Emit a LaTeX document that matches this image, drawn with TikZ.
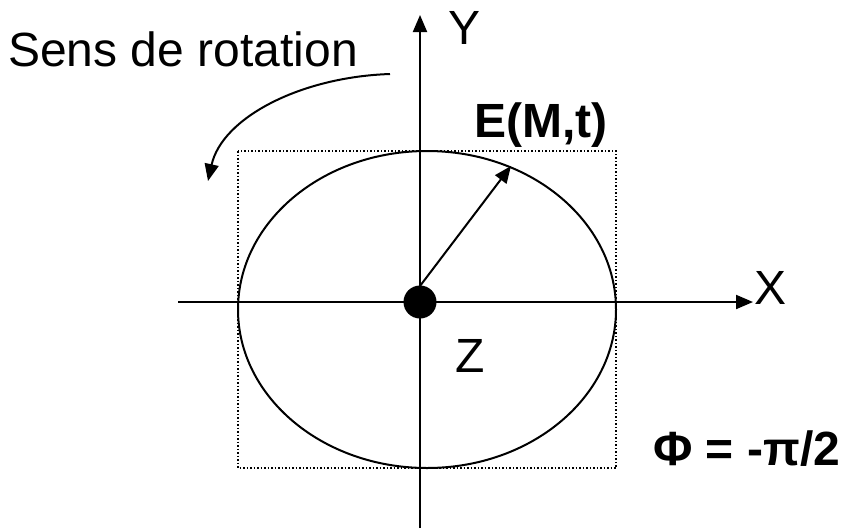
\documentclass[tikz,border=0pt]{standalone}
\usepackage{fontspec}
\setmainfont{Liberation Sans}
\usetikzlibrary{arrows.meta}
\begin{document}
\begin{tikzpicture}[x=1pt,y=-1pt,
  line/.style={line width=2pt},
  tip/.style={-{Triangle[length=17pt,width=14pt]}},
  lbl/.style={inner sep=0pt,anchor=base west,font=\fontsize{48}{52}\selectfont},
  blbl/.style={lbl,font=\fontsize{48}{52}\selectfont\bfseries}]
\useasboundingbox (0,0) rectangle (843,528);
% dotted box and ellipse
\draw[line width=1.5pt,dotted] (238,151) rectangle (616,468);
\draw[line] (427,309.5) ellipse [x radius=189, y radius=158.5];
% axes
\coordinate (ybot) at (420,528);
\coordinate (ytop) at (420,15);
\coordinate (xl) at (178,302);
\coordinate (xr) at (753,302);
\draw[line,tip] (ybot) -- (ytop);
\draw[line,tip] (xl) -- (xr);
% centre
\node[circle,fill=black,minimum size=33pt,inner sep=0pt] (O) at (420,302) {};
\coordinate (E) at (511,166);
\draw[line,tip] (O.center) ++(0,-16) coordinate (Os) (Os) -- (E);
% rotation arrow
\coordinate (rs) at (390,74);
\coordinate (re) at (208,181);
\draw[line,tip] (rs) .. controls (300,77) and (222,118) .. (re);
% labels
\node[lbl] (sens) at (8,66) {Sens de rotation};
\node[lbl] (Y) at (448,44) {Y};
\node[lbl] (X) at (754,304) {X};
\node[lbl] (Z) at (455,372) {Z};
\node[blbl] (Et) at (474,137) {E(M,t)};
\node[blbl] (phi) at (653,465) {Φ = -π/2};
\end{tikzpicture}
\end{document}
